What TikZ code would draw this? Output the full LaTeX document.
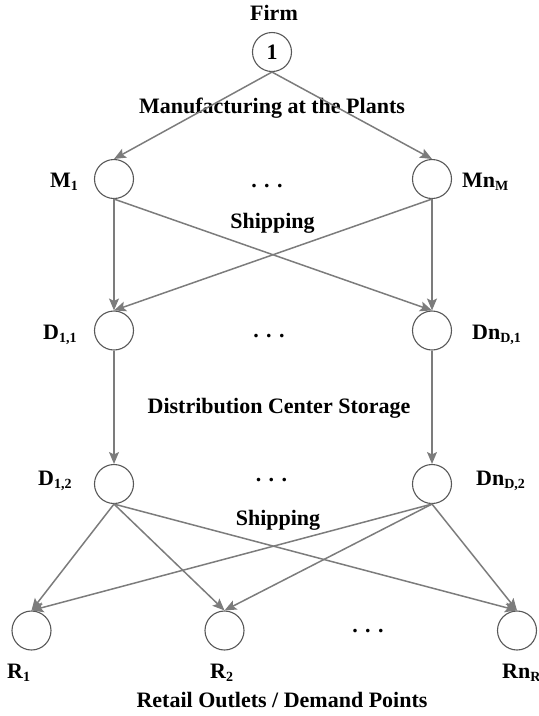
\documentclass[tikz,border=0pt]{standalone}
\usepackage{fontspec}
\setmainfont{Liberation Serif}
\usetikzlibrary{arrows.meta}
\definecolor{edgegray}{HTML}{7C7C7C}
\definecolor{circgray}{HTML}{585858}
\newcommand{\lsub}[1]{\raisebox{-0.3ex}{\fontsize{14}{14}\selectfont\bfseries #1}}
\begin{document}
\begin{tikzpicture}[x=1pt,y=-1pt,
  nd/.style={circle,draw=circgray,line width=1.1pt,minimum size=39pt,inner sep=0pt,fill=white},
  lbl/.style={font=\fontsize{22}{22}\selectfont\bfseries,inner sep=0pt,anchor=base west},
  ttl/.style={font=\fontsize{22}{22}\selectfont\bfseries,inner sep=0pt,anchor=base},
  arr/.style={draw=edgegray,line width=1.5pt,-{Stealth[length=12pt,width=10pt,inset=2.5pt]}}]
\useasboundingbox (0,0) rectangle (539,716);
% nodes
\node[nd,font=\fontsize{22}{22}\selectfont\bfseries] (F) at (272,52) {1};
\node[nd] (M1) at (114,179) {};
\node[nd] (MN) at (432,179) {};
\node[nd] (D11) at (114,330.5) {};
\node[nd] (DN1) at (432,330.5) {};
\node[nd] (D12) at (114,484) {};
\node[nd] (DN2) at (432,484) {};
\node[nd] (R1) at (31.5,630.5) {};
\node[nd] (R2) at (224.5,630.5) {};
\node[nd] (RN) at (517,630.5) {};
% titles
\node[ttl] (tFirm) at (274,20) {Firm};
\node[ttl] (tMan) at (272,113) {Manufacturing at the Plants};
\node[ttl] (tShip1) at (272.5,228) {Shipping};
\node[ttl] (tDCS) at (279,413) {Distribution Center Storage};
\node[ttl] (tShip2) at (278,525) {Shipping};
\node[ttl] (tRet) at (282,707) {Retail Outlets / Demand Points};
% labels
\node[lbl] (lM1) at (50,187) {M\lsub{1}};
\node[lbl] (lMN) at (462,187) {Mn\lsub{M}};
\node[lbl] (lD11) at (43,339) {D\lsub{1,1}};
\node[lbl] (lDN1) at (472,339) {Dn\lsub{D,1}};
\node[lbl] (lD12) at (38,485) {D\lsub{1,2}};
\node[lbl] (lDN2) at (476,485) {Dn\lsub{D,2}};
\node[lbl] (lR1) at (7,678) {R\lsub{1}};
\node[lbl] (lR2) at (210,678) {R\lsub{2}};
\node[lbl] (lRN) at (502,678) {Rn\lsub{R}};
% dots
\node[ttl] (dots1) at (267,187) {. . .};
\node[ttl] (dots2) at (269,337) {. . .};
\node[ttl] (dots3) at (271.5,481) {. . .};
\node[ttl] (dots4) at (368,632) {. . .};
% edges
\draw[arr] (F.south) -- (M1.north);
\draw[arr] (F.south) -- (MN.north);
\draw[arr] (M1.south) -- (D11.north);
\draw[arr] (M1.south) -- (DN1.north);
\draw[arr] (MN.south) -- (D11.north);
\draw[arr] (MN.south) -- (DN1.north);
\draw[arr] (D11.south) -- (D12.north);
\draw[arr] (DN1.south) -- (DN2.north);
\foreach \s in {D12,DN2}{
  \foreach \t in {R1,R2,RN}{
    \draw[arr] (\s.south) -- (\t.north);
  }
}
\end{tikzpicture}
\end{document}
